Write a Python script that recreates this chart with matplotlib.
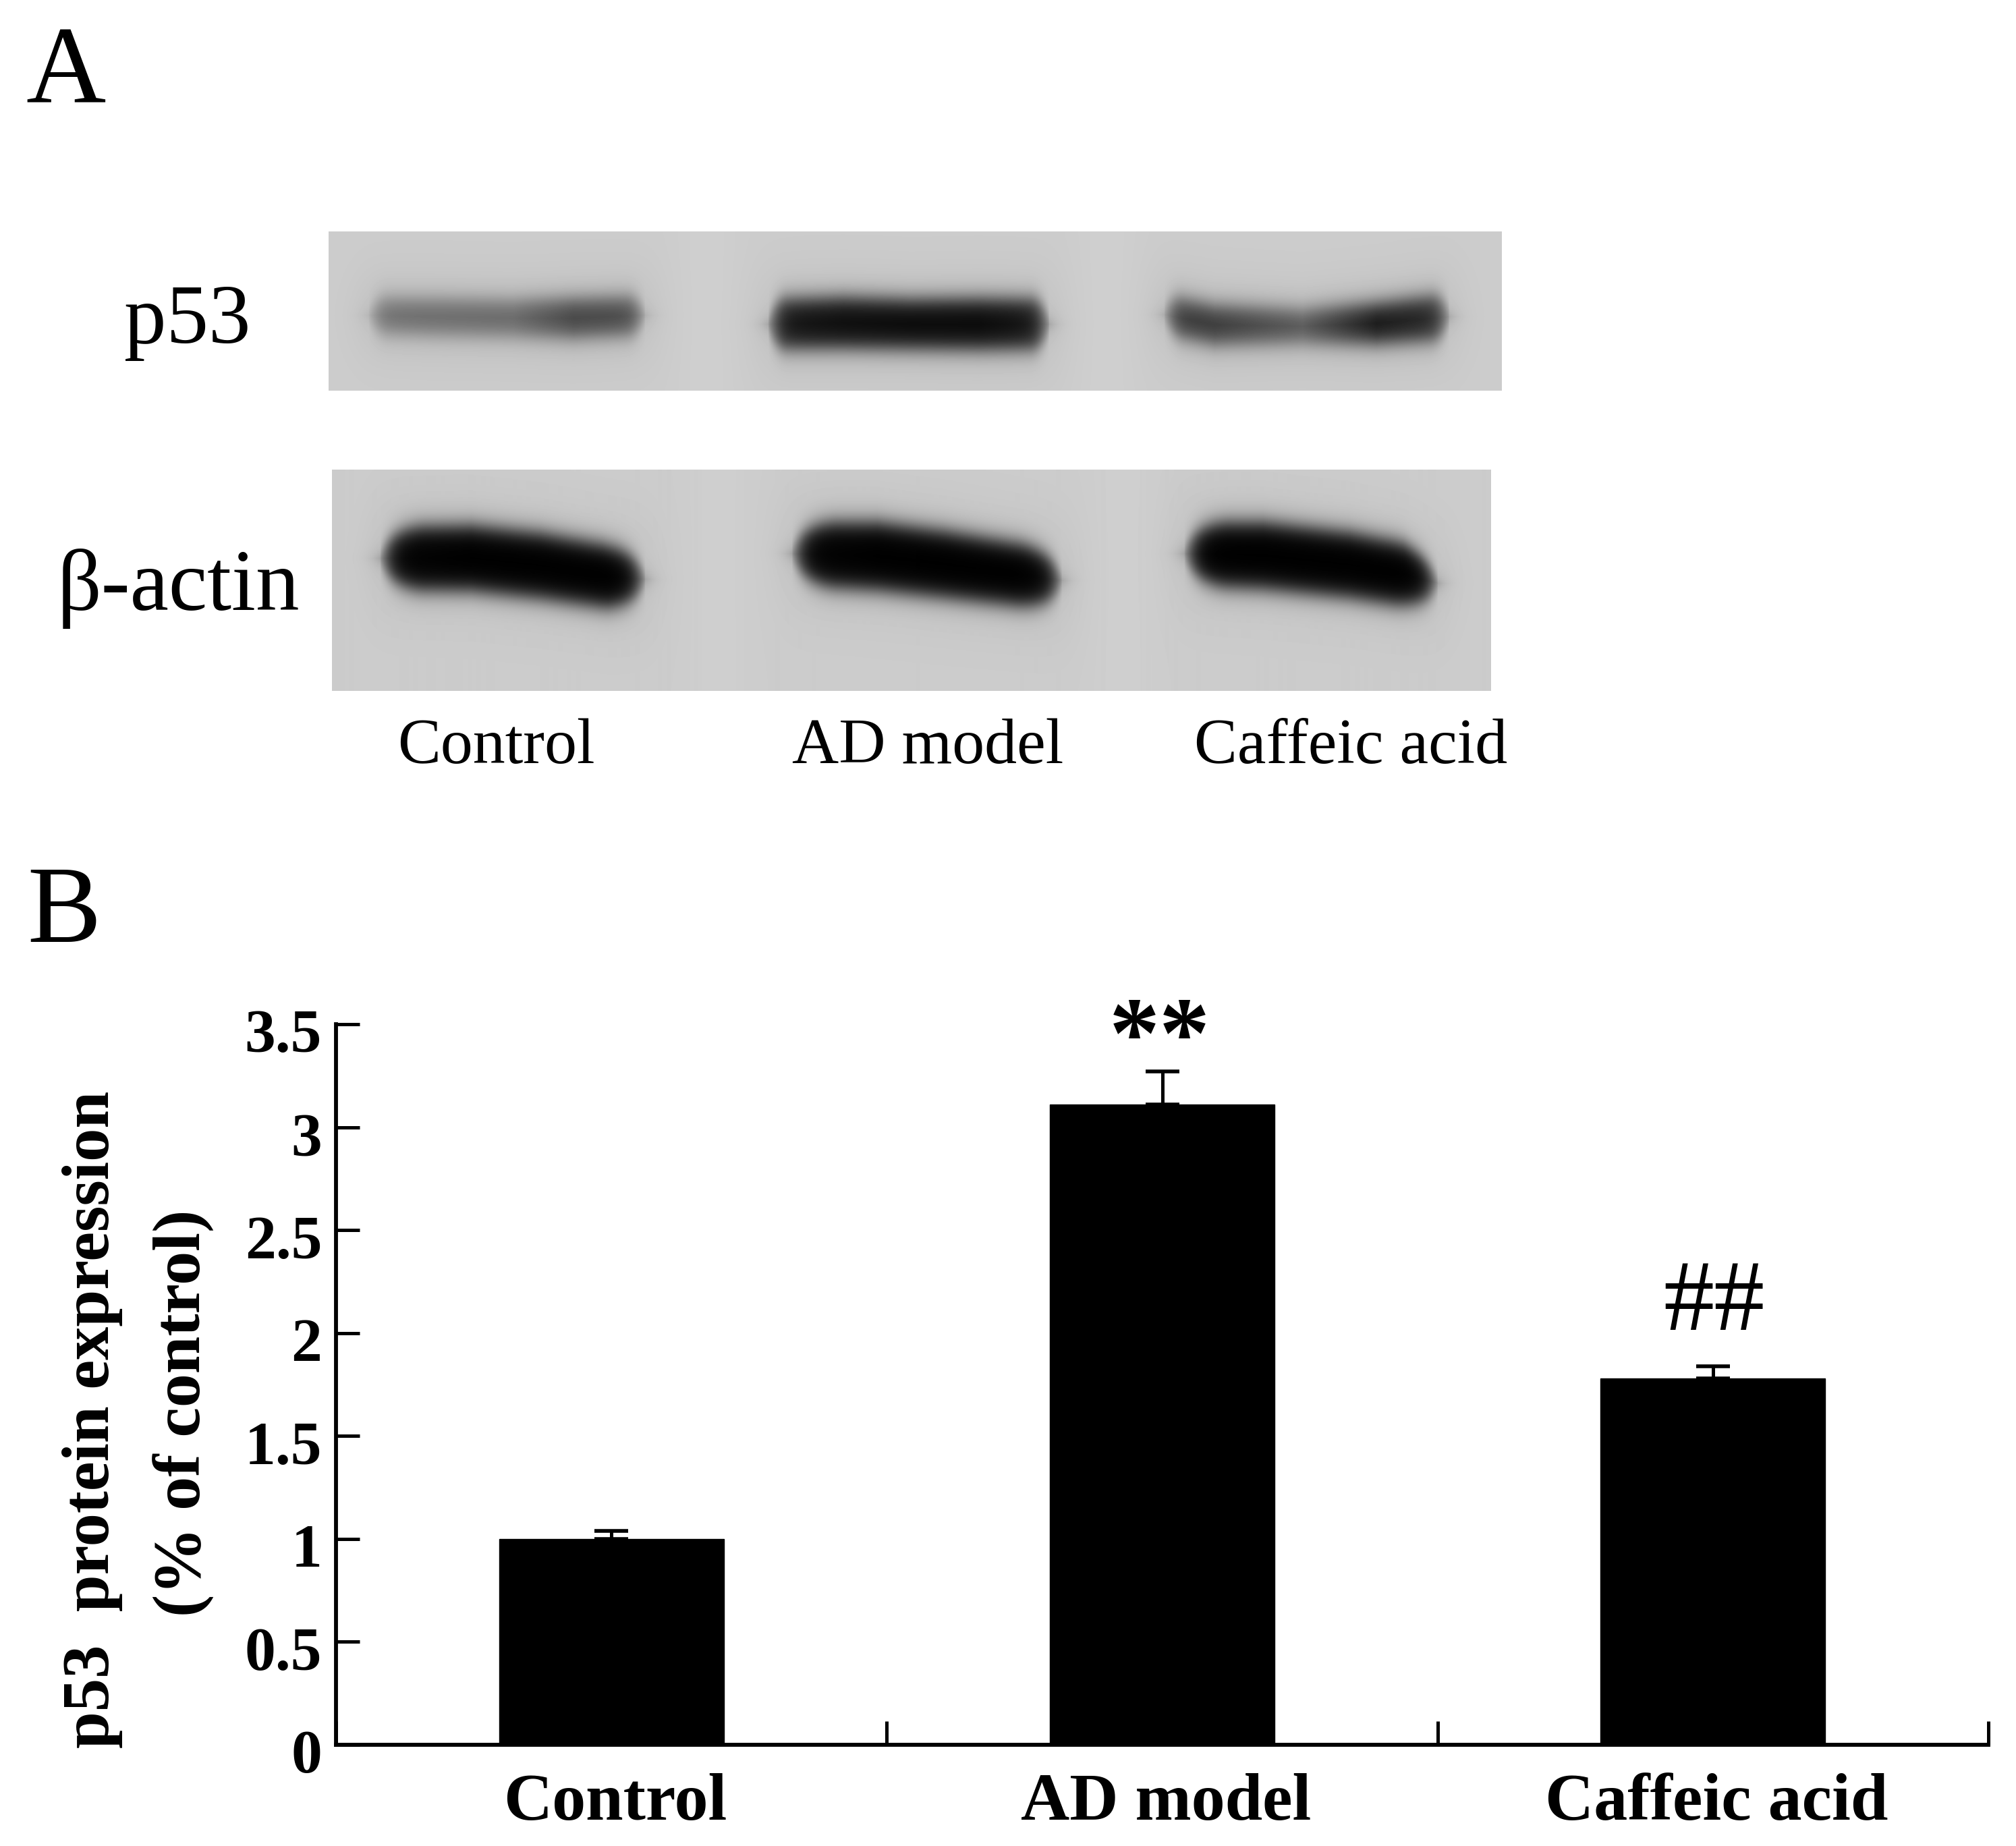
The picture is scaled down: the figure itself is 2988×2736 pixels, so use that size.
import numpy as np
import matplotlib
matplotlib.use("Agg")
import matplotlib.pyplot as plt
from matplotlib.transforms import ScaledTranslation

W, H = 2988, 2736
DPI = 100

# Bar chart data
groups = ["Control", "AD model", "Caffeic acid"]
means = [1.0, 3.11, 1.78]
errs = [0.04, 0.16, 0.06]
marks = ["", "**", "##"]
y_ticks = [0, 0.5, 1, 1.5, 2, 2.5, 3, 3.5]
y_tick_labels = ["0", "0.5", "1", "1.5", "2", "2.5", "3", "3.5"]

# Blot bands: x knots, band centre, half height, darkness
p53_x = [[546, 640, 760, 850, 956], [1138, 1250, 1350, 1450, 1555], [1725, 1800, 1930, 2040, 2148]]
p53_mid = [[467, 469, 471, 471, 467], [480, 478, 480, 480, 480], [466, 481, 483, 479, 469]]
p53_half = [[25, 26, 26, 28, 27], [36, 37, 36, 37, 36], [28, 28, 24, 29, 33]]
p53_dark = [[0.42, 0.44, 0.46, 0.64, 0.62], [0.88, 0.93, 0.95, 0.95, 0.88], [0.72, 0.70, 0.55, 0.88, 0.78]]

actin_x = [[563, 698, 800, 900, 956], [1173, 1300, 1400, 1500, 1573], [1754, 1872, 2000, 2080, 2130]]
actin_mid = [[827, 827, 838, 854, 858], [820, 824, 836, 850, 860], [820, 823, 837, 851, 864]]
actin_half = [[46, 48, 48, 46, 44], [46, 50, 49, 46, 44], [46, 49, 48, 46, 40]]
actin_dark = [[0.98, 1.0, 1.0, 1.0, 0.98], [0.98, 1.0, 1.0, 1.0, 0.98], [1.0, 1.0, 1.0, 1.0, 1.0]]


def fx(px):
    return px / W


def fy(px):
    return 1 - px / H


def blot(box, band_x, band_mid, band_half, band_dark, soft, radius):
    left, right, top, bottom = box
    xs = np.arange(left, right)
    ys = np.arange(top, bottom)
    gx, gy = np.meshgrid(xs, ys)
    img = np.full(gx.shape, 0.80)
    # lighter strips between the lanes
    for a, b in zip(band_x[:-1], band_x[1:]):
        c = (a[-1] + b[0]) / 2
        img += 0.012 * np.exp(-((gx - c) / 45.0) ** 2)
    for bx, mid, half, dark in zip(band_x, band_mid, band_half, band_dark):
        m = np.interp(xs, bx, mid)
        d = np.interp(xs, bx, dark)
        # round the band ends
        t = np.clip(np.minimum(xs - bx[0], bx[-1] - xs) / radius, 0, 1)
        h = np.interp(xs, bx, half) * np.sqrt(1 - (1 - t) ** 2)
        across = 1 / (1 + np.exp((np.abs(gy - m[None, :]) - h[None, :]) / soft))
        halo = np.exp(-((gy - m[None, :]) / (np.interp(xs, bx, half)[None, :] + 45)) ** 2)
        along = 1 / (1 + np.exp((bx[0] + 6 - gx) / soft)) / (1 + np.exp((gx - bx[-1] + 6) / soft))
        wide = 1 / (1 + np.exp((bx[0] - 15 - gx) / 14.0)) / (1 + np.exp((gx - bx[-1] - 15) / 14.0))
        img *= 1 - 0.05 * halo * wide
        img *= 1 - d[None, :] * across * along
    return img


def draw_blot(fig, box, band_x, band_mid, band_half, band_dark, soft, radius):
    left, right, top, bottom = box
    ax = fig.add_axes([fx(left), fy(bottom), (right - left) / W, (bottom - top) / H])
    ax.imshow(blot(box, band_x, band_mid, band_half, band_dark, soft, radius), cmap="gray", vmin=0, vmax=1, aspect="auto")
    ax.axis("off")


def main():
    plt.rcParams["font.family"] = ["Liberation Serif", "DejaVu Serif"]
    fig = plt.figure(figsize=(W / DPI, H / DPI), dpi=DPI, facecolor="white")

    draw_blot(fig, (487, 2226, 343, 579), p53_x, p53_mid, p53_half, p53_dark, 9, 30)
    draw_blot(fig, (492, 2209, 696, 1024), actin_x, actin_mid, actin_half, actin_dark, 9, 70)

    fig.text(fx(38), fy(152), "A", fontsize=118, va="baseline", ha="left")
    fig.text(fx(40), fy(1396), "B", fontsize=118, va="baseline", ha="left")
    fig.text(fx(278), fy(478), "p53", fontsize=90, va="center", ha="center")
    fig.text(fx(264), fy(858), "β-actin", fontsize=93, va="center_baseline", ha="center")

    blot_labels = [(735, "Control"), (1375, "AD model"), (2002, "Caffeic acid")]
    for xpos, name in blot_labels:
        fig.text(fx(xpos), fy(1108), name, fontsize=69, va="center", ha="center")

    ax = fig.add_axes([fx(498), fy(2586), (2947 - 498) / W, (2586 - 1518) / H])
    pos = np.arange(len(groups)) + 0.5
    ax.bar(pos, means, width=0.408, color="black", edgecolor="black", linewidth=1)
    ax.errorbar(pos, means, yerr=[np.zeros(3), errs], fmt="none", ecolor="black",
                elinewidth=3.6, capsize=18, capthick=4)
    ax.set_xlim(0, 3)
    ax.set_ylim(0, 3.5)

    for side in ["top", "right"]:
        ax.spines[side].set_visible(False)
    for side in ["left", "bottom"]:
        ax.spines[side].set_linewidth(4.2)

    ax.set_yticks(y_ticks)
    ax.set_yticklabels(y_tick_labels, fontsize=66, fontweight="bold")
    ax.set_xticks([0, 1, 2, 3])
    ax.set_xticklabels([])
    ax.set_xticks(pos + 0.007, minor=True)
    ax.set_xticklabels(groups, minor=True, fontsize=72, fontweight="bold")
    ax.tick_params(axis="both", which="major", direction="in", length=25, width=3.6)
    ax.tick_params(axis="y", pad=15)
    ax.tick_params(axis="x", which="minor", length=0, pad=30)

    # tick labels sit a little below their ticks in the original
    shift = ScaledTranslation(0, -10 / DPI, fig.dpi_scale_trans)
    for label in ax.get_yticklabels():
        label.set_transform(label.get_transform() + shift)

    ax.text(pos[1] - 0.005, 3.41, marks[1], fontsize=108, fontweight="bold", ha="center", va="center", clip_on=False)
    ax.text(pos[2] + 0.002, 2.135, marks[2], fontsize=108, ha="center", va="center")

    fig.text(fx(137), fy(2104), "p53  protein expression", fontsize=71, fontweight="bold",
             rotation=90, ha="center", va="center")
    fig.text(fx(272), fy(2094), "(% of control)", fontsize=72, fontweight="bold",
             rotation=90, ha="center", va="center")

    fig.savefig("out.png", dpi=DPI)


if __name__ == "__main__":
    main()
